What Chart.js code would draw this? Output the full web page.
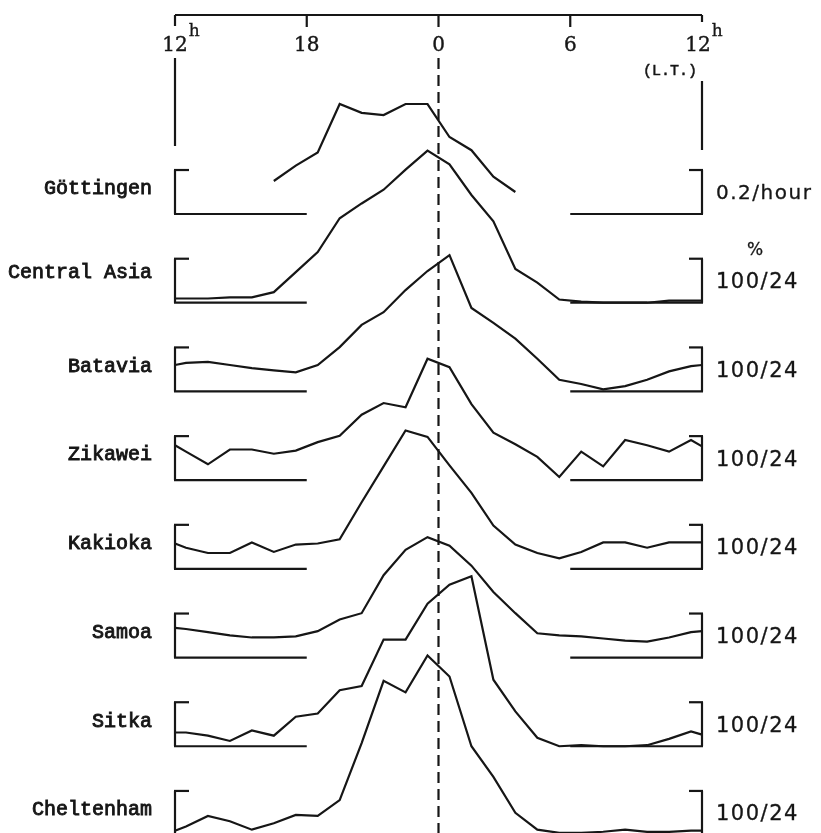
<!DOCTYPE html>
<html><head><meta charset="utf-8">
<script src="https://cdn.jsdelivr.net/npm/chart.js@4/dist/chart.umd.min.js"></script>
<style>html,body{margin:0;padding:0;background:#fff;}#wrap{width:821px;height:833px;}</style>
</head><body><div id="wrap"><canvas id="c" width="821" height="833"></canvas></div>
<script>
// ---- data (hours on a 12h..36h scale, 24 = local midnight) ----
const HOURS = [12,12.5,13.5,14.5,15.5,16.5,17.5,18.5,19.5,20.5,21.5,22.5,23.5,24.5,25.5,26.5,27.5,28.5,29.5,30.5,31.5,32.5,33.5,34.5,35.5,36];
const GOTTINGEN_HOURS = [16.5,17.5,18.5,19.5,20.5,21.5,22.5,23.5,24.5,25.5,26.5,27.5];
const GOTTINGEN_RATE = [0.15,0.22,0.28,0.50,0.46,0.45,0.50,0.50,0.35,0.29,0.17,0.10]; // per hour
const CENTRAL_ASIA = [0.4,0.4,0.4,0.5,0.5,1.0,2.9,4.8,8.0,9.4,10.7,12.6,14.4,13.1,10.2,7.7,3.2,1.9,0.3,0.1,0.0,0.0,0.0,0.2,0.2,0.2];
const BATAVIA      = [2.5,2.7,2.8,2.5,2.2,2.0,1.8,2.5,4.2,6.3,7.5,9.6,11.4,12.9,7.9,6.5,5.0,3.1,1.1,0.7,0.2,0.5,1.1,1.9,2.4,2.5];
const ZIKAWEI      = [3.3,2.7,1.5,2.9,2.9,2.5,2.8,3.6,4.2,6.2,7.3,6.9,11.5,10.7,7.2,4.5,3.4,2.2,0.3,2.7,1.3,3.8,3.3,2.7,3.8,3.2];
const KAKIOKA      = [2.4,2.0,1.5,1.5,2.5,1.6,2.3,2.4,2.8,6.3,9.7,13.1,12.5,9.8,7.2,4.1,2.3,1.5,1.0,1.6,2.5,2.5,2.0,2.5,2.5,2.5];
const SAMOA        = [2.8,2.7,2.4,2.1,1.9,1.9,2.0,2.5,3.6,4.2,7.8,10.2,11.4,10.6,8.7,6.2,4.2,2.3,2.1,2.0,1.8,1.6,1.5,1.9,2.4,2.5];
const SITKA        = [1.3,1.3,1.0,0.5,1.5,1.0,2.8,3.1,5.3,5.7,10.1,10.1,13.5,15.3,16.1,6.3,3.3,0.8,0.0,0.1,0.0,0.0,0.1,0.7,1.4,1.1];
const CHELTENHAM   = [0.4,0.8,1.8,1.3,0.5,1.1,1.9,1.8,3.3,8.7,14.6,13.5,17.0,15.0,8.4,5.5,2.1,0.5,0.2,0.2,0.3,0.5,0.3,0.3,0.4,0.4];
const STATIONS = ['Göttingen','Central Asia','Batavia','Zikawei','Kakioka','Samoa','Sitka','Cheltenham'];
const SCALE_LABELS = ['0.2/hour','100/24','100/24','100/24','100/24','100/24','100/24','100/24'];
const TICK_HOURS = [12,18,24,30,36];
const TICK_LABELS = ['12','18','0','6','12'];
const TICK_SUP = ['h','','','','h'];

// ---- layout constants ----
const UNIT_PCT = 100/24;   // bracket height for % panels
const UNIT_RATE = 0.2;     // bracket height for Göttingen
const PANEL_STEP = 2.016;  // vertical distance between panel baselines (bracket units)
const Y_MAX = 4.864, Y_MIN = Y_MAX - 833/44;
const INK = '#161616';
const FONT = '"Liberation Mono", "Courier New", monospace';
const SERIF = '"DejaVu Serif", "Liberation Serif", serif';
const SANS = '"DejaVu Sans", sans-serif';

const pctSeries = [CENTRAL_ASIA,BATAVIA,ZIKAWEI,KAKIOKA,SAMOA,SITKA,CHELTENHAM];
const datasets = [];
datasets.push({data: GOTTINGEN_HOURS.map((h,i)=>({x:h, y: GOTTINGEN_RATE[i]/UNIT_RATE}))});
pctSeries.forEach((s,k)=>{
  const off = -(k+1)*PANEL_STEP;
  datasets.push({data: HOURS.map((h,i)=>({x:h, y: off + s[i]/UNIT_PCT}))});
});
datasets.forEach(d=>{Object.assign(d,{borderColor:INK,borderWidth:2.2,pointRadius:0,tension:0,fill:false,clip:false});});

const deco = {
  id:'deco',
  afterDatasetsDraw(chart){
    const ctx = chart.ctx, xs = chart.scales.x, ys = chart.scales.y;
    const X = v=>xs.getPixelForValue(v), Y = v=>ys.getPixelForValue(v);
    ctx.save();
    ctx.strokeStyle = INK; ctx.fillStyle = INK; ctx.lineWidth = 2.2; ctx.lineCap='butt';
    const line=(x1,y1,x2,y2)=>{ctx.beginPath();ctx.moveTo(x1,y1);ctx.lineTo(x2,y2);ctx.stroke();};
    const text=(s,x,y,w)=>{ctx.fillText(s,x,y); const lw=ctx.lineWidth; ctx.lineWidth=w; ctx.strokeText(s,x,y); ctx.lineWidth=lw;};
    const xl = X(12), xr = X(36);
    // top axis
    line(xl,15,xr,15);
    TICK_HOURS.forEach((h,i)=>{ line(X(h),15,X(h), i===4?22:(i===0?26:27)); });
    ctx.textBaseline='middle';
    TICK_HOURS.forEach((h,i)=>{
      const x = X(h) - (i===4?4:0);
      ctx.font = '20px '+SERIF; ctx.textAlign='center';
      text(TICK_LABELS[i], x, 46, 0.4);
      if (TICK_SUP[i]) {
        const w = ctx.measureText(TICK_LABELS[i]).width;
        ctx.font = '17px '+SERIF; ctx.textAlign='left';
        text(TICK_SUP[i], x + w/2 + 1, 32, 0.3);
      }
    });
    ctx.font = '15px '+FONT; ctx.textAlign='right';
    text('(L.T.)', xr-5, 71, 0.5);
    // side verticals below the axis
    line(xl,58,xl,146);
    line(xr,81,xr,150);
    // dashed midnight line
    ctx.setLineDash([11,6]);
    line(X(24),58,X(24),833);
    ctx.setLineDash([]);
    // panel brackets & baselines
    STATIONS.forEach((name,i)=>{
      const off = -i*PANEL_STEP;
      const yb = Y(off), yt = Y(off+1);
      line(xl,yt,xl,yb); line(xl-1,yt,xl+14,yt); line(xl-1,yb,X(18),yb);
      line(xr,yt,xr,yb); line(xr-13,yt,xr+1,yt); line(X(30),yb,xr+1,yb);
      ctx.font = '20px '+FONT; ctx.textAlign='right'; ctx.textBaseline='middle';
      const ly = (yt+yb)/2 - (i===1?8:3);
      text(name, 152, ly, 0.9);
      ctx.textAlign='left';
      ctx.font = (i===0?'20px ':'21px ')+SANS;
      ctx.letterSpacing = '1.5px';
      const ry = (yt+yb)/2 + 2;
      text(SCALE_LABELS[i], 716, ry, 0.3);
      ctx.letterSpacing = '0px';
      if (i===1){ ctx.font='17px '+SANS; ctx.textAlign='center'; text('%', 755, yt-8, 0.3); }
    });
    ctx.restore();
  }
};

new Chart(document.getElementById('c'), {
  type:'line',
  data:{datasets},
  options:{
    responsive:false, animation:false,
    layout:{padding:{left:175,right:119,top:0,bottom:0}},
    scales:{
      x:{type:'linear',min:12,max:36,display:false},
      y:{type:'linear',min:Y_MIN,max:Y_MAX,display:false}
    },
    plugins:{legend:{display:false},tooltip:{enabled:false}}
  },
  plugins:[deco]
});
</script></body></html>
